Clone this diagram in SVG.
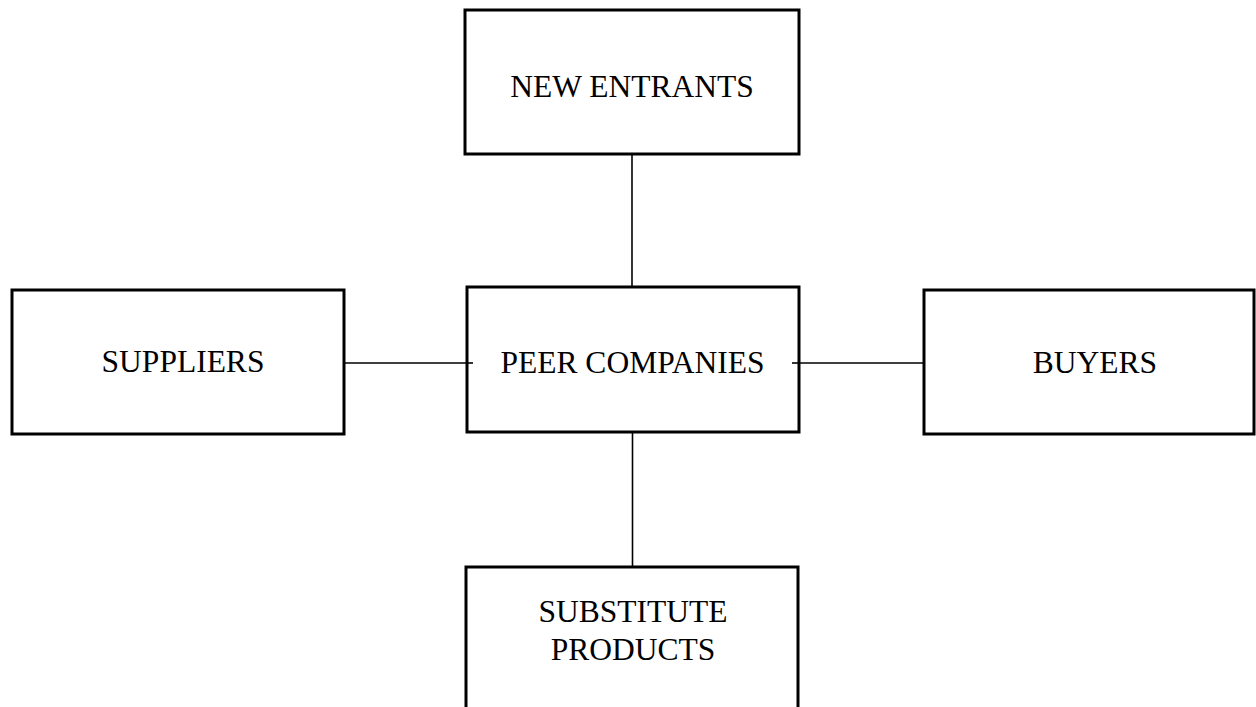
<svg xmlns="http://www.w3.org/2000/svg" width="1256" height="707" viewBox="0 0 1256 707">
<style>
.box{fill:#fff;stroke:#000;stroke-width:3}
.lbl{font-family:"Liberation Serif","Times New Roman",serif;font-size:31.5px;fill:#000;text-anchor:middle}
.con{stroke:#000;stroke-width:1.6;fill:none}
</style>
<rect width="1256" height="707" fill="#fff"/>
<g id="connectors">
<line class="con" x1="632" y1="154" x2="632" y2="287"/>
<line class="con" x1="632.5" y1="432" x2="632.5" y2="567"/>
<line class="con" x1="344" y1="363" x2="473" y2="363"/>
<line class="con" x1="792" y1="363" x2="924" y2="363"/>
</g>
<g id="new-entrants">
<rect class="box" x="465" y="10" width="334" height="144"/>
<text class="lbl" x="632" y="97">NEW ENTRANTS</text>
</g>
<g id="suppliers">
<rect class="box" x="12" y="290" width="332" height="144"/>
<text class="lbl" x="183" y="372">SUPPLIERS</text>
</g>
<g id="peer-companies">
<rect class="box" x="467" y="287" width="332" height="145"/>
<line class="con" x1="467" y1="363" x2="473" y2="363"/>
<line class="con" x1="792" y1="363" x2="799" y2="363"/>
<text class="lbl" x="632.5" y="373">PEER COMPANIES</text>
</g>
<g id="buyers">
<rect class="box" x="924" y="290" width="330" height="144"/>
<text class="lbl" x="1095" y="373">BUYERS</text>
</g>
<g id="substitute-products">
<rect class="box" x="466" y="567" width="332" height="160"/>
<text class="lbl" x="633" y="622">SUBSTITUTE</text>
<text class="lbl" x="633" y="660">PRODUCTS</text>
</g>
</svg>
